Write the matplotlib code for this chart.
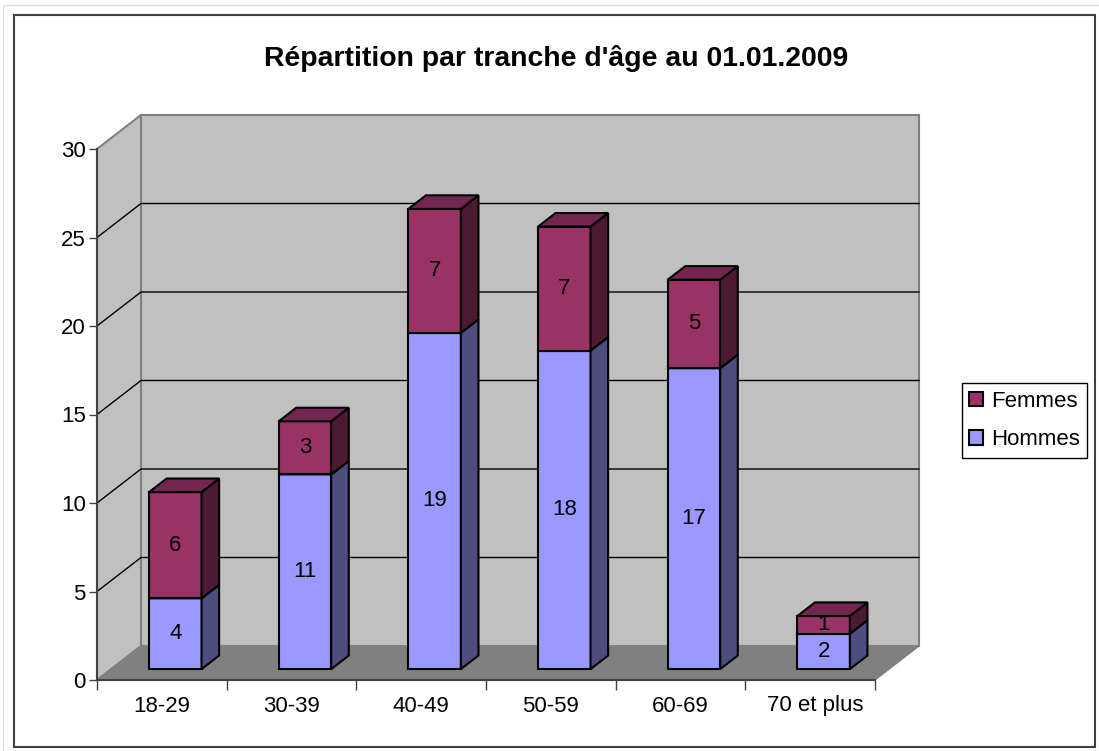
import matplotlib
matplotlib.use("Agg")
import matplotlib.pyplot as plt
from matplotlib.patches import Polygon, Patch, Rectangle

plt.rcParams["font.family"] = ["Liberation Sans", "DejaVu Sans"]

categories = ["18-29", "30-39", "40-49", "50-59", "60-69", "70 et plus"]
hommes = [4, 11, 19, 18, 17, 2]
femmes = [6, 3, 7, 7, 5, 1]
yticks = [0, 5, 10, 15, 20, 25, 30]

W, H = 1099, 751
# oblique projection: how far a full depth step shifts, in data units
DEPTH_X = 44 / 129.67
DEPTH_Y = 34 / 17.7
BAR_W = 0.405
BAR_D0, BAR_D1 = 0.32, 0.72
FS = 16


def proj(x, y, d):
    return x + DEPTH_X * d, y + DEPTH_Y * d


def poly(ax, pts, fc, ec="black", lw=1.5, z=2):
    ax.add_patch(Polygon([proj(*p) for p in pts], closed=True, facecolor=fc,
                         edgecolor=ec, linewidth=lw, joinstyle="miter", zorder=z, clip_on=False))


fig = plt.figure(figsize=(W / 100, H / 100), dpi=100, facecolor="white")
ax = fig.add_axes([97 / W, 1 - 680 / H, 778 / W, 531 / H])
ax.set_xlim(0, 6)
ax.set_ylim(0, 30)
ax.patch.set_visible(False)

# page and chart frames
fig.add_artist(Rectangle((3 / W, 1 - 751 / H), 1100 / W, 746 / H, transform=fig.transFigure,
                         fill=False, ec="#dddddd", lw=1))
fig.add_artist(Rectangle((14 / W, 1 - 747 / H), 1081 / W, 732 / H, transform=fig.transFigure,
                         fill=False, ec="#404040", lw=1.5))

# walls and floor
poly(ax, [(0, 0, 1), (6, 0, 1), (6, 30, 1), (0, 30, 1)], "#c0c0c0", "#808080", 1.5, 1)
poly(ax, [(0, 0, 0), (0, 0, 1), (0, 30, 1), (0, 30, 0)], "#c0c0c0", "#808080", 1.5, 1)
poly(ax, [(0, 0, 0), (6, 0, 0), (6, 0, 1), (0, 0, 1)], "#808080", "#808080", 1, 1)

# gridlines, side wall then back wall
for v in yticks[1:-1]:
    ax.plot(*zip(proj(0, v, 0), proj(0, v, 1), proj(6, v, 1)), color="black", lw=1, zorder=1.5,
            clip_on=False)


def box(x0, y0, y1, front, side, top):
    x1 = x0 + BAR_W
    poly(ax, [(x0, y0, BAR_D0), (x1, y0, BAR_D0), (x1, y1, BAR_D0), (x0, y1, BAR_D0)], front)
    poly(ax, [(x1, y0, BAR_D0), (x1, y0, BAR_D1), (x1, y1, BAR_D1), (x1, y1, BAR_D0)], side)
    poly(ax, [(x0, y1, BAR_D0), (x1, y1, BAR_D0), (x1, y1, BAR_D1), (x0, y1, BAR_D1)], top)


for i, (h, f) in enumerate(zip(hommes, femmes)):
    x0 = i + 0.495 - BAR_W / 2
    box(x0, 0, h, "#9999ff", "#4d4d80", "#4d4d80")
    box(x0, h, h + f, "#993366", "#4d1a33", "#732650")
    tx, ty = proj(i + 0.495, h / 2, BAR_D0)
    ax.text(tx, ty, str(h), ha="center", va="center", fontsize=FS, zorder=3)
    tx, ty = proj(i + 0.495, h + f / 2, BAR_D0)
    ax.text(tx, ty, str(f), ha="center", va="center", fontsize=FS, zorder=3)

# axes
for s in ["top", "right"]:
    ax.spines[s].set_visible(False)
for s in ["left", "bottom"]:
    ax.spines[s].set_color("#404040")
    ax.spines[s].set_linewidth(1.5)
ax.set_yticks(yticks)
ax.set_xticks(range(7))
ax.set_xticklabels([])
ax.tick_params(axis="y", length=6, width=1, labelsize=FS, pad=2, color="#404040")
ax.tick_params(axis="x", length=7, width=1, color="#404040")
for i, c in enumerate(categories):
    # the long last label sits a little right of its slot in the original
    nudge = 5 if i == len(categories) - 1 else 0
    ax.annotate(c, (i + 0.5, 0), xytext=(nudge, -26), textcoords="offset pixels", ha="center",
                va="center", fontsize=FS, annotation_clip=False)

fig.text(556 / W, 1 - 58 / H, "Répartition par tranche d'âge au 01.01.2009", ha="center", va="center",
         fontsize=20.4, fontweight="bold")

handles = [Patch(fc="#993366", ec="black", lw=1.5, label="Femmes"),
           Patch(fc="#9999ff", ec="black", lw=1.5, label="Hommes")]
leg = fig.legend(handles=handles, loc="center left", bbox_to_anchor=(962 / W, 1 - 420.5 / H), fontsize=FS,
                 fancybox=False, edgecolor="black", framealpha=1, handlelength=0.62, handleheight=0.62,
                 handletextpad=0.35, borderpad=0.33, labelspacing=0.8, borderaxespad=0)
leg.get_frame().set_linewidth(1)

fig.savefig("out.png", dpi=100, facecolor="white")
